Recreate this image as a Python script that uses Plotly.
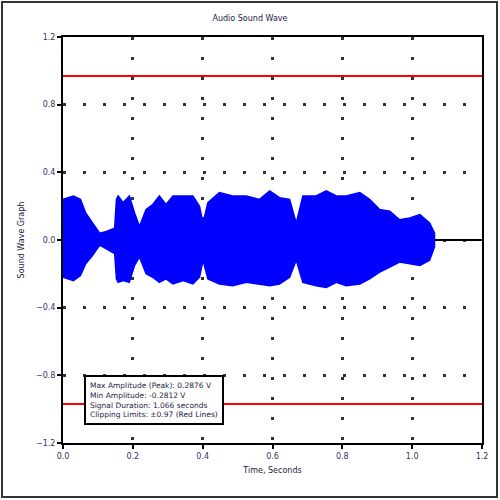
import plotly.graph_objects as go

# Envelope of the waveform (time in s, amplitude)
t_env = [0.0, 0.03, 0.05, 0.065, 0.085, 0.105, 0.124, 0.148, 0.153, 0.158, 0.172, 0.19, 0.205,
         0.219, 0.238, 0.257, 0.276, 0.295, 0.315, 0.344, 0.372, 0.391, 0.401, 0.415,
         0.448, 0.486, 0.525, 0.563, 0.592, 0.62, 0.649, 0.668, 0.687, 0.725, 0.754,
         0.783, 0.811, 0.85, 0.878, 0.907, 0.936, 0.964, 0.993, 1.022, 1.05, 1.064]
upper = [0.24, 0.26, 0.24, 0.16, 0.10, 0.04, 0.05, 0.07, 0.24, 0.26, 0.22, 0.26, 0.16,
         0.08, 0.18, 0.21, 0.26, 0.21, 0.26, 0.26, 0.26, 0.20, 0.10, 0.22,
         0.28, 0.26, 0.26, 0.24, 0.29, 0.25, 0.24, 0.10, 0.26, 0.26, 0.29,
         0.26, 0.26, 0.28, 0.24, 0.18, 0.17, 0.12, 0.13, 0.15, 0.10, 0.04]
lower = [-0.22, -0.24, -0.21, -0.14, -0.09, -0.03, -0.05, -0.08, -0.23, -0.25, -0.24, -0.25, -0.15,
         -0.10, -0.20, -0.22, -0.25, -0.23, -0.26, -0.24, -0.26, -0.22, -0.12, -0.23,
         -0.26, -0.27, -0.25, -0.26, -0.27, -0.26, -0.22, -0.12, -0.25, -0.27, -0.28,
         -0.25, -0.27, -0.26, -0.23, -0.19, -0.16, -0.13, -0.14, -0.15, -0.12, -0.04]

t_end = [0.0, 1.2]
zero_line = [0.0, 0.0]
clip_limit = 0.97

x_ticks = [0.0, 0.2, 0.4, 0.6, 0.8, 1.0, 1.2]
y_ticks = [-1.2, -0.8, -0.4, 0.0, 0.4, 0.8, 1.2]

info_lines = ["Max Amplitude (Peak): 0.2876 V", "Min Amplitude: -0.2812 V",
              "Signal Duration: 1.066 seconds", "Clipping Limits: \u00b10.97 (Red Lines)"]

fig = go.Figure()
fig.add_trace(go.Scatter(x=t_end, y=zero_line, mode="lines",
                         line=dict(color="black", width=2), showlegend=False))
fig.add_trace(go.Scatter(x=t_env + t_env[::-1], y=upper + lower[::-1], mode="lines",
                         fill="toself", fillcolor="#0000ff",
                         line=dict(color="#0000ff", width=1.5), showlegend=False))
for lim in (clip_limit, -clip_limit):
    fig.add_trace(go.Scatter(x=t_end, y=[lim, lim], mode="lines",
                             line=dict(color="#ff0000", width=2), showlegend=False))

axis_common = dict(showline=True, linecolor="black", linewidth=2, mirror=True,
                   ticks="outside", ticklen=4, tickwidth=2, tickcolor="black",
                   showgrid=True, gridcolor="#333333", gridwidth=2.5,
                   griddash="2.5px,17.5px", zeroline=False,
                   tickfont=dict(size=8, color="#333366", family="DejaVu Sans"))

fig.update_xaxes(range=[0, 1.2], tickvals=x_ticks, tickformat=".1f",
                 title=dict(text="Time, Seconds", font=dict(size=8, color="#222244"), standoff=8),
                 **axis_common)
fig.update_yaxes(range=[-1.2, 1.2], tickvals=y_ticks, tickformat=".1f",
                 title=dict(text="Sound Wave Graph", font=dict(size=8, color="#222244"), standoff=10),
                 **axis_common)

fig.add_annotation(xref="paper", yref="paper", x=0.05, y=0.168, xanchor="left", yanchor="top",
                   text="<br>".join(info_lines), showarrow=False, align="left",
                   font=dict(size=7.5, color="#222244", family="DejaVu Sans"),
                   bordercolor="black", borderwidth=2, bgcolor="white", borderpad=4)

# outer frame
fig.add_shape(type="rect", xref="paper", yref="paper",
              x0=-61/419, x1=1 + 15/419, y0=-54/406, y1=1 + 35/406,
              line=dict(color="#333333", width=2))

fig.update_layout(width=500, height=500,
                  margin=dict(l=63, r=18, t=37, b=57),
                  paper_bgcolor="white", plot_bgcolor="white",
                  title=dict(text="Audio Sound Wave", x=0.5, y=0.97, xanchor="center",
                             font=dict(size=8, color="#222244", family="DejaVu Sans")),
                  font=dict(family="DejaVu Sans"))

fig.write_html("out.html")
